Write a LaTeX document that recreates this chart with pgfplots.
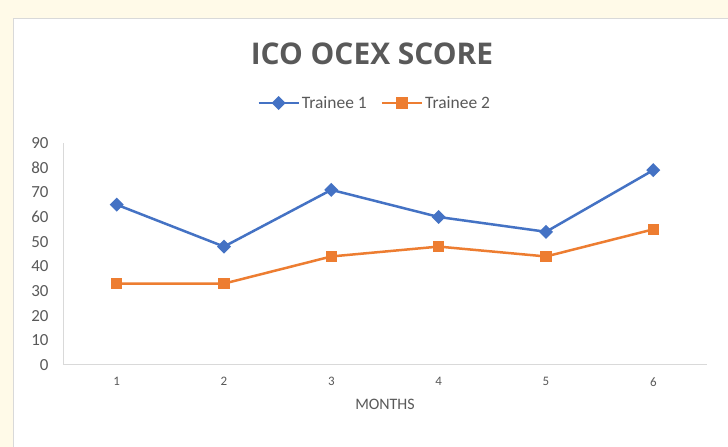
\documentclass[border=0pt]{standalone}
\usepackage{pgfplots}
\pgfplotsset{compat=1.18}
\usepackage{fontspec}
\setmainfont{Carlito}
\newfontfamily\titlefont{Open Sans}
\definecolor{tblue}{HTML}{4472C4}
\definecolor{torange}{HTML}{ED7D31}
\definecolor{tgray}{HTML}{595959}
\definecolor{axgray}{HTML}{D9D9D9}
\definecolor{cream}{HTML}{FFFAE8}
\begin{document}
\begin{tikzpicture}[x=1bp,y=1bp]
\useasboundingbox (0,0) rectangle (728,447);
\fill[cream] (0,0) rectangle (728,447);
\fill[white] (13,0) rectangle (728,428);
\draw[axgray,line width=1bp] (13,0) -- (13,428) -- (728,428);
\node[font=\titlefont\bfseries\fontsize{30}{32}\selectfont,text=tgray] at (372,393) {ICO OCEX SCORE};
\begin{axis}[
  at={(63bp,82bp)}, anchor=south west,
  scale only axis, width=644bp, height=222bp,
  xmin=0.5, xmax=6.5, ymin=0, ymax=90,
  xtick={1,2,3,4,5,6}, ytick={0,10,...,90},
  axis x line*=bottom, axis y line*=left,
  axis line style={axgray, line width=1bp},
  tick style={draw=none},
  ticklabel style={text=tgray},
  yticklabel style={font=\fontsize{17}{18}\selectfont, xshift=-11bp},
  xticklabel style={font=\fontsize{13}{14}\selectfont, yshift=-9bp},
  /pgf/number format/assume math mode=true,
  xlabel={MONTHS}, xlabel style={font=\fontsize{16}{17}\selectfont, text=tgray, yshift=-6bp},
  legend style={at={(0.484,1.18)}, anchor=center, draw=none, fill=none, legend columns=2, font=\fontsize{17.5}{18}\selectfont, text=tgray, /tikz/every even column/.append style={column sep=12bp}},
  legend cell align=left,
  legend image code/.code={\draw[#1] (0bp,0bp) -- (40bp,0bp); \draw[#1, mark repeat=1] plot coordinates {(20bp,0bp)};},
  every axis plot/.append style={line width=2.5bp},
]
\addplot[tblue, mark=square*, mark size=3.7bp, mark options={solid, rotate=45}] coordinates {(1,65) (2,48) (3,71) (4,60) (5,54) (6,79)};
\addlegendentry{Trainee 1}
\addplot[torange, mark=square*, mark size=4.5bp, mark options={solid}] coordinates {(1,33) (2,33) (3,44) (4,48) (5,44) (6,55)};
\addlegendentry{Trainee 2}
\end{axis}
\end{tikzpicture}
\end{document}
